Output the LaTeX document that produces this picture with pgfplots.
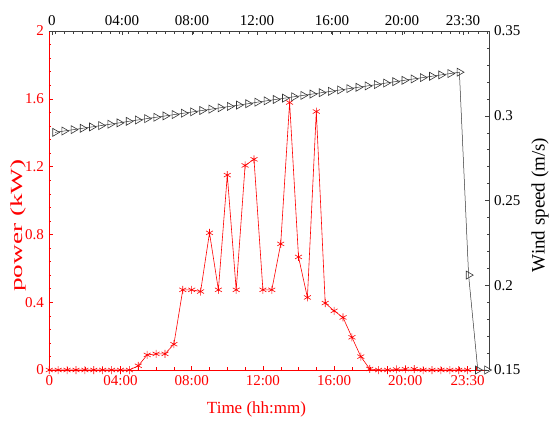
\documentclass[border=0pt]{standalone}
\usepackage{fontspec}
\setmainfont{Liberation Serif}
\usepackage{pgfplots}
\pgfplotsset{compat=1.18}

\begin{document}
\fontsize{15}{17}\selectfont
\begin{tikzpicture}
\useasboundingbox (-49pt,-51pt) rectangle (501pt,370pt);
% ---- power (left / bottom, red) ----
\begin{axis}[
  at={(0,0)}, anchor=south west, scale only axis,
  width=440pt, height=339pt,
  xmin=-0.03, xmax=49.4, ymin=0, ymax=2,
  axis x line*=bottom, axis y line*=left,
  axis line style={-, red},
  xtick={0,8,16,24,32,40,47},
  xticklabels={0,04:00,08:00,12:00,16:00,20:00,23:30},
  minor xtick={0,2,...,48},
  ytick={0,0.4,0.8,1.2,1.6,2},
  minor y tick num=4,
  tick style={red, thin}, major tick length=4pt, minor tick length=2.5pt,
  tick label style={text=red, font=\fontsize{15}{17}\selectfont},
  label style={text=red},
  xlabel={Time (hh:mm)},
  ylabel={\scalebox{1.6}[1]{power (kW)}},
  xlabel style={font=\fontsize{17}{19}\selectfont,
    at={(axis description cs:0.4716,-0.115)}, anchor=center},
  ylabel style={font=\fontsize{17}{19}\selectfont,
    at={(axis description cs:-0.07,0.426)}, anchor=center},
  /pgf/number format/assume math mode=true,
  yticklabel style={/pgf/number format/fixed},
  clip=false,
]
\addplot[red, line width=0.6pt, mark=asterisk, mark size=4pt] coordinates {
(0,0) (1,0) (2,0) (3,0) (4,0) (5,0) (6,0) (7,0) (8,0) (9,0)
(10,0.025) (11,0.089) (12,0.095) (13,0.095) (14,0.152) (15,0.473)
(16,0.473) (17,0.463) (18,0.809) (19,0.473) (20,1.150) (21,0.473)
(22,1.207) (23,1.243) (24,0.473) (25,0.473) (26,0.744) (27,1.578)
(28,0.667) (29,0.428) (30,1.525) (31,0.395) (32,0.349) (33,0.310)
(34,0.193) (35,0.079) (36,0.006) (37,0) (38,0) (39,0.003) (40,0.005)
(41,0.005) (42,0) (43,0) (44,0) (45,0) (46,0) (47,0)
};
\end{axis}
% ---- wind speed (right / top, black) ----
\begin{axis}[
  at={(0,0)}, anchor=south west, scale only axis,
  width=440pt, height=339pt,
  xmin=-0.653, xmax=47.22, ymin=0.15, ymax=0.35,
  axis x line*=top, axis y line*=right,
  axis line style={-, black!75},
  xtick={-0.33,7.29,14.91,21.98,30.14,37.76,44.40},
  xticklabels={0,04:00,08:00,12:00,16:00,20:00,23:30},
  minor xtick={0,1,...,47},
  ytick={0.15,0.2,0.25,0.3,0.35},
  minor y tick num=4,
  tick style={black!75, thin}, major tick length=4pt, minor tick length=2.5pt,
  tick label style={text=black, font=\fontsize{15}{17}\selectfont},
  ylabel={Wind speed (m/s)},
  ylabel style={text=black, font=\fontsize{19}{21}\selectfont,
    at={(axis description cs:1.116,0.487)}, anchor=center},
  /pgf/number format/assume math mode=true,
  yticklabel style={/pgf/number format/fixed},
  clip=false,
]
\addplot[black!80, line width=0.5pt, mark=triangle, mark size=4.6pt,
  mark options={rotate=-90, fill=none, line width=0.6pt}] coordinates {
(0,0.2902) (1,0.2910) (2,0.2918) (3,0.2926) (4,0.2934) (5,0.2942)
(6,0.2950) (7,0.2958) (8,0.2967) (9,0.2975) (10,0.2983) (11,0.2991)
(12,0.2999) (13,0.3007) (14,0.3015) (15,0.3023) (16,0.3031) (17,0.3039)
(18,0.3047) (19,0.3055) (20,0.3063) (21,0.3071) (22,0.3080) (23,0.3088)
(24,0.3096) (25,0.3104) (26,0.3112) (27,0.3120) (28,0.3128) (29,0.3136)
(30,0.3144) (31,0.3152) (32,0.3160) (33,0.3168) (34,0.3176) (35,0.3184)
(36,0.3193) (37,0.3201) (38,0.3209) (39,0.3217) (40,0.3225) (41,0.3233)
(42,0.3241) (43,0.3249) (44,0.3257) (45,0.206) (46,0.150) (47,0.150)
};
\end{axis}
\end{tikzpicture}
\end{document}
